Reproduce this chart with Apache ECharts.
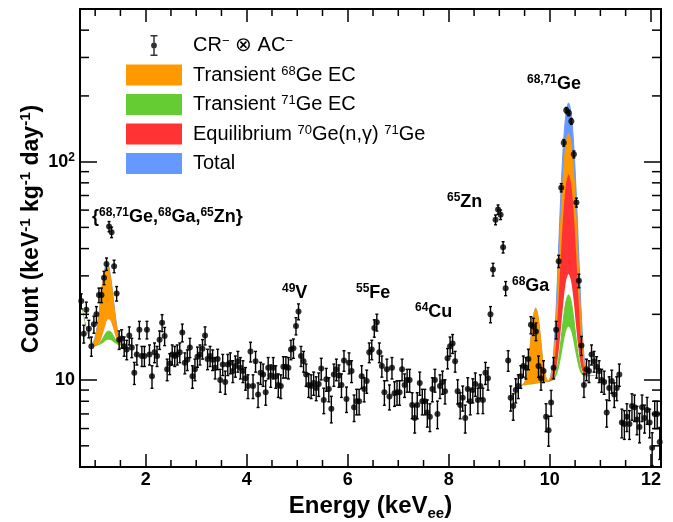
<!DOCTYPE html>
<html><head><meta charset="utf-8">
<script src="https://cdn.jsdelivr.net/npm/echarts@6/dist/echarts.min.js"></script>
<style>html,body{margin:0;padding:0;background:#fff}#c{width:673px;height:522px}</style>
</head><body><div id="c"></div>
<script>
// ---- measured spectrum (bin centres in keV, counts, symmetric errors) ----
const energies = [0.725,0.775,0.825,0.875,0.925,0.975,
1.025,1.075,1.125,1.175,1.225,1.275,1.325,1.375,1.425,1.475,1.525,1.575,1.625,1.675,1.725,1.775,1.825,1.875,1.925,1.975,
2.025,2.075,2.125,2.175,2.225,2.275,2.325,2.375,2.425,2.475,2.525,2.575,2.625,2.675,2.725,2.775,2.825,2.875,2.925,2.975,
3.025,3.075,3.125,3.175,3.225,3.275,3.325,3.375,3.425,3.475,3.525,3.575,3.625,3.675,3.725,3.775,3.825,3.875,3.925,3.975,
4.025,4.075,4.125,4.175,4.225,4.275,4.325,4.375,4.425,4.475,4.525,4.575,4.625,4.675,4.725,4.775,4.825,4.875,4.925,4.975,
5.025,5.075,5.125,5.175,5.225,5.275,5.325,5.375,5.425,5.475,5.525,5.575,5.625,5.675,5.725,5.775,5.825,5.875,5.925,5.975,
6.025,6.075,6.125,6.175,6.225,6.275,6.325,6.375,6.425,6.475,6.525,6.575,6.625,6.675,6.725,6.775,6.825,6.875,6.925,6.975,
7.025,7.075,7.125,7.175,7.225,7.275,7.325,7.375,7.425,7.475,7.525,7.575,7.625,7.675,7.725,7.775,7.825,7.875,7.925,7.975,
8.025,8.075,8.125,8.175,8.225,8.275,8.325,8.375,8.425,8.475,8.525,8.575,8.625,8.675,8.725,8.775,8.825,8.875,8.925,8.975,
9.025,9.075,9.125,9.175,9.225,9.275,9.325,9.375,9.425,9.475,9.525,9.575,9.625,9.675,9.725,9.775,9.825,9.875,9.925,9.975,
10.025,10.075,10.125,10.175,10.225,10.275,10.325,10.375,10.425,10.475,10.525,10.575,10.625,10.675,10.725,10.775,10.825,10.875,10.925,10.975,
11.025,11.075,11.125,11.175,11.225,11.275,11.325,11.375,11.425,11.475,11.525,11.575,11.625,11.675,11.725,11.775,11.825,11.875,11.925,11.975,
12.025,12.075,12.125,12.175];
const counts = [23,16.3,21,17.2,14.3,18,20,24.5,24.5,29.4,
34,50.5,47.5,33.2,24.9,15.3,15.5,14.3,13.8,16.0,
14.1,10.8,13.1,17.0,12.9,12.9,17.0,13.1,10.4,13.4,
12.9,15.3,18.3,15.9,11.2,11.9,13.1,12.9,13.1,13.4,
16.5,12.0,12.4,14.1,10.4,11.2,12.8,13.1,13.9,16.0,
12.5,12.9,12.4,11.4,12.5,10.0,11.8,9.8,11.8,12.0,
11.0,11.6,12.2,11.4,11.0,10.2,9.4,13.5,9.4,12.2,
8.6,10.8,10.6,8.8,11.4,10.5,11.4,10.4,9.5,9.4,
11.5,11.5,11.4,13.8,14.0,17.7,20.6,12.9,12.2,10.6,
9.5,9.4,9.7,9.2,9.6,11.3,8.1,10.1,9.1,7.4,
10.6,11.2,10.5,9.5,12.3,8.2,12.0,11.0,7.5,8.0,
8.0,10.4,9.1,9.9,13.4,13.8,17.3,18.4,13.4,11.6,
8.8,11.2,8.4,11.4,8.7,8.8,8.8,11.2,9.5,10.0,
10.0,7.7,6.7,7.7,9.7,8.0,8.0,7.1,6.8,9.1,
10.0,7.0,9.4,9.8,8.9,12.6,14.3,14.7,12.2,8.9,
7.7,8.3,6.7,9.1,8.0,9.0,9.6,8.1,9.4,8.1,
10.8,10.2,20.0,32.1,54.2,60.4,57.2,40.6,26.3,12.3,
8.3,7.6,9.0,9.4,10.4,11.6,11.4,12.5,17.9,17.6,
16.7,11.6,10.2,11.0,6.8,5.9,7.9,11.4,17.0,35.0,
76,122,172,167,153,108,65,28.5,14.4,9.5,
11.2,11.0,13.1,12.2,11.5,11.0,10.0,9.8,7.1,9.2,
9.9,8.6,9.2,10.6,6.4,6.3,6.8,6.3,7.6,7.5,
6.6,6.1,7.5,6.7,7.3,6.4,4.9,7.0,7.0,5.2];
const errors = [1.82,1.53,1.74,1.58,1.44,1.61,1.70,1.88,1.88,2.06,
2.22,2.70,2.62,2.19,1.90,1.49,1.50,1.44,1.41,1.52,
1.43,1.25,1.38,1.57,1.36,1.36,1.57,1.38,1.23,1.39,
1.36,1.49,1.63,1.52,1.27,1.31,1.38,1.36,1.38,1.39,
1.54,1.32,1.34,1.43,1.23,1.27,1.36,1.38,1.42,1.52,
1.34,1.36,1.34,1.28,1.34,1.20,1.31,1.19,1.31,1.32,
1.26,1.29,1.33,1.28,1.26,1.21,1.17,1.40,1.17,1.33,
1.11,1.25,1.24,1.13,1.28,1.23,1.28,1.23,1.17,1.17,
1.29,1.29,1.28,1.41,1.42,1.60,1.72,1.36,1.33,1.24,
1.17,1.17,1.18,1.15,1.18,1.28,1.08,1.21,1.15,1.03,
1.24,1.27,1.23,1.17,1.33,1.09,1.32,1.26,1.04,1.07,
1.07,1.23,1.15,1.20,1.39,1.41,1.58,1.63,1.39,1.29,
1.13,1.27,1.10,1.28,1.12,1.13,1.13,1.27,1.17,1.20,
1.20,1.05,0.98,1.05,1.18,1.07,1.07,1.01,0.99,1.15,
1.20,1.01,1.17,1.19,1.13,1.35,1.44,1.46,1.33,1.13,
1.05,1.09,0.98,1.15,1.07,1.14,1.18,1.08,1.17,1.08,
1.25,1.21,1.70,2.15,2.80,2.95,2.87,2.42,1.95,1.33,
1.09,1.05,1.14,1.17,1.23,1.29,1.28,1.34,1.61,1.59,
1.55,1.29,1.21,1.26,0.99,0.92,1.07,1.28,1.57,2.25,
3.31,4.20,4.98,4.91,4.70,3.95,3.06,2.03,1.44,1.17,
1.27,1.26,1.38,1.33,1.29,1.26,1.20,1.19,1.01,1.15,
1.20,1.11,1.15,1.24,0.96,0.95,0.99,0.95,1.05,1.04,
0.98,0.94,1.04,0.98,1.03,0.96,0.84,1.01,1.01,0.87];

// ---- fit bands, L-shell region ----
const bandEnergyL = [0.70,0.75,0.80,0.85,0.90,0.95,1.00,1.05,1.10,1.15,1.20,1.25,1.30,1.35,1.40,1.45,1.50,1.55,1.60];
const totalTopL = [23.0,20.5,18.2,16.3,15.1,14.8,15.8,18.1,22.4,28.2,32.9,33.8,30.3,24.6,19.6,16.5,15.1,14.5,14.4];
const ge68TopL  = [23.0,20.5,18.0,16.2,15.0,14.6,15.5,17.7,21.9,27.6,32.2,33.1,29.7,24.1,19.2,16.2,14.9,14.4,14.3];
const eqTopL    = [23.0,20.5,18.0,16.2,15.0,14.36,14.36,14.54,15.08,16.28,17.84,18.98,18.86,17.54,15.98,14.96,14.48,14.33,14.3];
const eqLowL    = [23.0,20.5,18.0,16.2,15.0,14.36,14.36,14.54,15.08,16.28,17.84,18.98,18.86,17.54,15.98,14.96,14.48,14.33,14.3];
const ge71TopL  = [23.0,20.5,18.0,16.2,15.0,14.35,14.37,14.5,14.9,15.5,16.25,16.75,16.7,16.1,15.4,14.8,14.5,14.35,14.3];
const ge71LowL  = [23.0,20.5,18.0,16.2,15.0,14.3,14.3,14.39,14.54,14.79,15.08,15.28,15.26,15.03,14.73,14.5,14.37,14.3,14.3];
// ---- fit bands, K-shell region ----
const bandEnergyK = [9.42,9.47,9.52,9.57,9.62,9.67,9.72,9.77,9.82,9.87,9.92,9.97,10.02,10.07,10.12,10.17,10.22,10.27,10.32,10.37,10.42,10.47,10.52,10.57,10.62,10.67,10.72,10.77,10.82,10.87,10.92];
const totalTopK = [9.41,9.53,9.98,11.52,14.91,19.21,21.32,19.29,15.05,11.74,10.28,9.91,10.52,12.85,20.23,38.56,73.17,121.5,166.8,185.6,166.9,121.6,73.39,38.85,20.6,13.29,11.04,10.51,10.43,10.47,10.5];
const ge68TopK  = [9.41,9.53,9.98,11.52,14.91,19.21,21.32,19.29,15.05,11.74,10.28,9.89,10.33,11.98,17.23,30.24,54.81,89.08,121.2,134.6,121.3,89.23,55.03,30.53,17.6,12.42,10.84,10.48,10.43,10.47,10.5];
const eqTopK    = [9.4,9.44,9.47,9.51,9.55,9.58,9.62,9.66,9.69,9.73,9.77,9.8,10.14,11.19,14.47,22.58,37.89,59.23,79.27,87.6,79.34,59.38,38.11,22.87,14.84,11.63,10.66,10.44,10.43,10.47,10.5];
const eqLowK    = [9.4,9.44,9.47,9.51,9.55,9.58,9.62,9.66,9.69,9.73,9.77,9.8,9.92,10.23,11.12,13.29,17.37,23.04,28.37,30.6,28.44,23.19,17.59,13.58,11.49,10.67,10.44,10.4,10.43,10.47,10.5];
const ge71TopK  = [9.4,9.44,9.47,9.51,9.55,9.58,9.62,9.66,9.69,9.73,9.77,9.8,9.9,10.13,10.76,12.31,15.21,19.23,23.01,24.6,23.08,19.38,15.43,12.6,11.13,10.57,10.42,10.4,10.43,10.47,10.5];
const ge71LowK  = [9.4,9.44,9.47,9.51,9.55,9.58,9.62,9.66,9.69,9.73,9.77,9.8,9.87,10.01,10.35,11.17,12.69,14.78,16.76,17.6,16.83,14.93,12.91,11.46,10.72,10.45,10.39,10.39,10.43,10.47,10.5];

// ---- axis ticks ----
const xMinorTicks = [1,1.5,2.5,3,3.5,4.5,5,5.5,6.5,7,7.5,8.5,9,9.5,10.5,11,11.5];
const yMinorTicks = [5,6,7,8,9,20,30,40,50,60,70,80,90,200,300,400];

const FONT = 'Liberation Sans, Arial, Helvetica, sans-serif';
const C_ORANGE = '#FF9900', C_GREEN = '#66CC33', C_RED = '#FF3333', C_BLUE = '#6699FF';

// colored band: exact region; white mask: same curve, widened a little at the inner ends
function band(vL, vK, widen) {
  const w = widen ? 0.04 : 0;
  const out = [];
  bandEnergyL.forEach((e, i) => out.push([e, vL[i]]));
  if (w) out.push([bandEnergyL[bandEnergyL.length - 1] + w, vL[vL.length - 1]]);
  out.push([5, '-']);
  if (w) out.push([bandEnergyK[0] - w, vK[0]]);
  bandEnergyK.forEach((e, i) => out.push([e, vK[i]]));
  if (w) out.push([bandEnergyK[bandEnergyK.length - 1] + w, vK[vK.length - 1]]);
  return out;
}
function areaSeries(name, color, z, vL, vK, lineW, widen) {
  return {
    name: name, type: 'line', z: z, data: band(vL, vK, widen), symbol: 'none', smooth: 0.3,
    color: color, itemStyle: { color: color },
    lineStyle: { color: color, width: lineW },
    areaStyle: { color: color, opacity: 1, origin: 'start' },
    connectNulls: false, silent: true, animation: false
  };
}

const chart = echarts.init(document.getElementById('c'), null, { renderer: 'canvas' });

const axisLine = { show: true, onZero: false, lineStyle: { color: '#000', width: 2 } };
const tickStyle = { color: '#000', width: 1.5 };
const supRich = { s: { fontFamily: FONT, fontWeight: 'bold', fontSize: 12, verticalAlign: 'top', lineHeight: 12 } };

const legendText = {
  'CR': '{n|CR}{s|\u2212} {n|\u2297 AC}{s|\u2212}',
  'Ge68': '{n|Transient }{s|68}{n|Ge EC}',
  'Ge71': '{n|Transient }{s|71}{n|Ge EC}',
  'Equil': '{n|Equilibrium }{s|70}{n|Ge(n,\u03b3) }{s|71}{n|Ge}',
  'Total': '{n|Total}'
};
const errIcon = 'path://M0,0h0.05v0.05h-0.05z M55.95,20.95h0.05v0.05h-0.05z M24.5,0h7v1.6h-7z M27.25,1.6h1.5v17.8h-1.5z M24.5,19.4h7v1.6h-7z M28,7.6a2.9,2.9 0 1,1 -0.001,0z';

function annot(x, y, text) {
  return {
    type: 'text', left: x, top: y, z: 20,
    style: {
      text: text, fill: '#000', fontFamily: FONT, fontWeight: 'bold', fontSize: 18,
      rich: {
        m: { fontFamily: FONT, fontWeight: 'bold', fontSize: 18, lineHeight: 20, fill: '#000' },
        s: { fontFamily: FONT, fontWeight: 'bold', fontSize: 12, lineHeight: 12, verticalAlign: 'top', fill: '#000' }
      }
    }
  };
}

const option = {
  animation: false,
  backgroundColor: '#fff',
  grid: { left: 80, top: 9, width: 581, height: 458, containLabel: false, outerBoundsMode: 'none' },
  legend: {
    orient: 'vertical', left: 121, top: 30, padding: 5, itemWidth: 56, itemHeight: 21, itemGap: 8.5,
    selectedMode: false,
    data: [
      { name: 'CR', icon: errIcon, itemStyle: { color: '#000' } },
      { name: 'Ge68', icon: 'rect' },
      { name: 'Ge71', icon: 'rect' },
      { name: 'Equil', icon: 'rect' },
      { name: 'Total', icon: 'rect' }
    ],
    formatter: n => legendText[n],
    textStyle: {
      fontFamily: FONT, fontSize: 20, color: '#000', lineHeight: 21, padding: [0, 0, 0, 6],
      rich: {
        n: { fontFamily: FONT, fontSize: 20, color: '#000', lineHeight: 21 },
        s: { fontFamily: FONT, fontSize: 13, color: '#000', verticalAlign: 'top', lineHeight: 13 }
      }
    }
  },
  xAxis: [
    {
      type: 'value', min: 0.7, max: 12.2, splitNumber: 6, position: 'bottom', z: 10,
      axisLine: axisLine, axisTick: { inside: true, length: 13, lineStyle: tickStyle },
      axisLabel: { fontFamily: FONT, fontWeight: 'bold', fontSize: 18, color: '#000', margin: 4, showMinLabel: false, showMaxLabel: false },
      splitLine: { show: false },
      name: '{m|Energy (keV}{b|ee}{m|)}', nameLocation: 'middle', nameGap: 19,
      nameTextStyle: {
        rich: {
          m: { fontFamily: FONT, fontWeight: 'bold', fontSize: 24, color: '#000', lineHeight: 30 },
          b: { fontFamily: FONT, fontWeight: 'bold', fontSize: 15, color: '#000', verticalAlign: 'bottom', lineHeight: 15 }
        }
      }
    },
    {
      type: 'value', min: 0.7, max: 12.2, splitNumber: 6, position: 'top', z: 10,
      axisLine: axisLine, axisTick: { inside: true, length: 13, lineStyle: tickStyle },
      axisLabel: { show: false }, splitLine: { show: false }
    }
  ],
  yAxis: [
    {
      type: 'log', logBase: 10, min: 4, max: 500, position: 'left', z: 10,
      axisLine: axisLine, axisTick: { inside: true, length: 17, lineStyle: tickStyle },
      axisLabel: {
        fontFamily: FONT, fontWeight: 'bold', fontSize: 18, color: '#000', margin: 5, lineHeight: 20,
        showMinLabel: false, showMaxLabel: false,
        formatter: v => { const p = Math.round(Math.log10(v)); return p === 1 ? '10' : (p === 2 ? '10{s|2}' : ''); },
        rich: supRich
      },
      splitLine: { show: false },
      name: '{m|Count (keV}{s|-1}{m| kg}{s|-1}{m| day}{s|-1}{m|)}', nameLocation: 'middle', nameGap: 34, nameRotate: 90,
      nameMoveOverlap: false,
      nameTextStyle: {
        padding: [0, 0, 0, 18],
        rich: {
          m: { fontFamily: FONT, fontWeight: 'bold', fontSize: 23, color: '#000', lineHeight: 28 },
          s: { fontFamily: FONT, fontWeight: 'bold', fontSize: 15, color: '#000', verticalAlign: 'top', lineHeight: 15 }
        }
      }
    },
    {
      type: 'log', logBase: 10, min: 4, max: 500, position: 'right', z: 10,
      axisLine: axisLine, axisTick: { inside: true, length: 17, lineStyle: tickStyle },
      axisLabel: { show: false }, splitLine: { show: false }
    }
  ],
  graphic: [
    annot(92, 207, '{m|{}{s|68,71}{m|Ge,}{s|68}{m|Ga,}{s|65}{m|Zn}}'),
    annot(282, 283, '{s|49}{m|V}'),
    annot(356, 283, '{s|55}{m|Fe}'),
    annot(415, 302, '{s|64}{m|Cu}'),
    annot(447, 192, '{s|65}{m|Zn}'),
    annot(512, 276, '{s|68}{m|Ga}'),
    annot(527, 74, '{s|68,71}{m|Ge}')
  ],
  series: [
    areaSeries('Total', C_BLUE, 2, totalTopL, totalTopK, 1, false),
    areaSeries('Ge68', C_ORANGE, 3, ge68TopL, ge68TopK, 1, false),
    areaSeries('Equil', C_RED, 4, eqTopL, eqTopK, 0, false),
    areaSeries('maskEq', '#FFFFFF', 5, eqLowL, eqLowK, 0, true),
    areaSeries('Ge71', C_GREEN, 6, ge71TopL, ge71TopK, 1, false),
    areaSeries('maskGe71', '#FFFFFF', 7, ge71LowL, ge71LowK, 0, true),
    {
      type: 'custom', z: 8, silent: true, animation: false,
      data: energies.map((e, i) => [e, counts[i], errors[i]]),
      encode: { x: 0, y: 1 },
      renderItem: (params, api) => {
        const x = api.value(0), y = api.value(1), e = api.value(2);
        const lo = api.coord([x, y - e]), hi = api.coord([x, y + e]);
        const st = { stroke: '#000', lineWidth: 1.4 };
        return { type: 'group', children: [
          { type: 'line', shape: { x1: lo[0], y1: lo[1], x2: hi[0], y2: hi[1] }, style: st },
          { type: 'line', shape: { x1: lo[0] - 1.5, y1: lo[1], x2: lo[0] + 1.5, y2: lo[1] }, style: st },
          { type: 'line', shape: { x1: hi[0] - 1.5, y1: hi[1], x2: hi[0] + 1.5, y2: hi[1] }, style: st }
        ] };
      }
    },
    {
      name: 'CR', type: 'scatter', z: 9, symbol: 'circle', symbolSize: 6,
      itemStyle: { color: '#000' }, color: '#000', silent: true, animation: false,
      data: energies.map((e, i) => [e, counts[i]])
    },
    {
      type: 'custom', z: 11, silent: true, animation: false,
      data: xMinorTicks.map(v => [v, 10]),
      encode: { x: 0, y: 1 },
      renderItem: (params, api) => {
        const px = api.coord([api.value(0), 10])[0];
        const cs = params.coordSys, top = cs.y, bot = cs.y + cs.height;
        const st = { stroke: '#000', lineWidth: 1.5 };
        return { type: 'group', children: [
          { type: 'line', shape: { x1: px, y1: bot, x2: px, y2: bot - 7 }, style: st },
          { type: 'line', shape: { x1: px, y1: top, x2: px, y2: top + 7 }, style: st }
        ] };
      }
    },
    {
      type: 'custom', z: 11, silent: true, animation: false,
      data: yMinorTicks.map(v => [2, v]),
      encode: { x: 0, y: 1 },
      renderItem: (params, api) => {
        const py = api.coord([2, api.value(1)])[1];
        const cs = params.coordSys, l = cs.x, r = cs.x + cs.width;
        const st = { stroke: '#000', lineWidth: 1.5 };
        return { type: 'group', children: [
          { type: 'line', shape: { x1: l, y1: py, x2: l + 9, y2: py }, style: st },
          { type: 'line', shape: { x1: r, y1: py, x2: r - 9, y2: py }, style: st }
        ] };
      }
    }
  ]
};
chart.setOption(option);
</script>
</body></html>
